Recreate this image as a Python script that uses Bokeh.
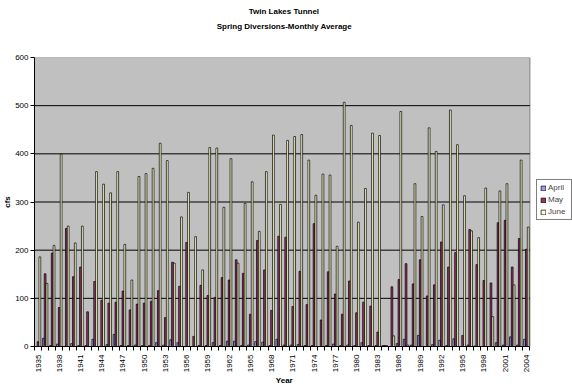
from math import pi

from bokeh.embed import file_html
from bokeh.models import ColumnDataSource, FixedTicker, Legend, LegendItem, Title
from bokeh.plotting import figure
from bokeh.resources import INLINE

# Monthly average diversions (cfs) through the Twin Lakes Tunnel, 1935-2004
years = list(range(1935, 2005))
april = [0, 17, 2, 5, 0, 6, 2, 2, 15, 0,
         4, 25, 2, 2, 3, 2, 2, 8, 3, 14,
         8, 0, 0, 2, 2, 8, 2, 11, 11, 2,
         3, 10, 9, 2, 15, 3, 3, 4, 2, 2,
         0, 2, 5, 2, 3, 2, 8, 2, 2, 2,
         0, 6, 15, 3, 23, 0, 4, 13, 2, 16,
         0, 3, 1, 0, 0, 8, 3, 20, 3, 15]
may = [10, 151, 194, 81, 245, 145, 165, 72, 135, 96,
       90, 92, 115, 76, 88, 90, 94, 116, 60, 175,
       125, 216, 21, 127, 106, 102, 143, 138, 180, 152,
       67, 220, 159, 75, 229, 227, 83, 156, 87, 255,
       55, 155, 109, 67, 136, 70, 92, 84, 30, 2,
       124, 139, 172, 130, 180, 105, 128, 217, 165, 195,
       23, 243, 170, 137, 132, 257, 262, 165, 224, 202]
june = [186, 131, 210, 399, 250, 215, 250, 0, 363, 337,
        319, 363, 212, 138, 353, 359, 370, 422, 386, 173,
        269, 320, 228, 159, 413, 412, 289, 390, 173, 297,
        342, 239, 363, 439, 295, 428, 436, 440, 387, 314,
        358, 356, 208, 507, 459, 258, 328, 443, 438, 2,
        22, 488, 3, 338, 270, 454, 405, 294, 491, 419,
        313, 240, 226, 329, 62, 323, 338, 128, 387, 248]

tick_years = [1935, 1938, 1941, 1944, 1947, 1950, 1953, 1956, 1959, 1962,
              1965, 1968, 1971, 1974, 1977, 1980, 1983, 1986, 1989, 1992,
              1995, 1998, 2001, 2004]
y_ticks = [0, 100, 200, 300, 400, 500, 600]
grid_levels = [100, 200, 300, 400, 500]

series_names = ["April", "May", "June"]
series_values = [april, may, june]
series_colors = ["#9999FF", "#993366", "#FFFFCC"]
bar_offsets = [-0.26, 0.0, 0.26]
bar_width = 0.25

FONT = "Liberation Sans"

# canvas geometry (pixels); the frame runs to the right edge so that the
# legend can sit beside the shaded plot area
W, H = 572, 390
LEFT, TOP, BOTTOM = 29, 57, 44
AREA_W = 500                      # width of the shaded plot area
FRAME_W = W - LEFT
Y_MAX = 600

x0 = years[0] - 0.5
x1 = years[-1] + 0.5
px_per_year = AREA_W / (x1 - x0)
x_end = x0 + FRAME_W / px_per_year

p = figure(width=W, height=H,
           x_range=(x0, x_end), y_range=(0, Y_MAX),
           output_backend="svg", toolbar_location=None, title=None,
           min_border_left=LEFT, min_border_right=0,
           min_border_top=TOP, min_border_bottom=BOTTOM)
p.background_fill_color = "white"
p.border_fill_color = "white"
p.outline_line_color = None

# shaded plot area with its gridlines
p.quad(left=[x0], right=[x1], bottom=[0], top=[Y_MAX],
       fill_color="#C0C0C0", line_color="#808080", line_width=1)
p.segment(x0=[x0] * len(grid_levels), x1=[x1] * len(grid_levels),
          y0=grid_levels, y1=grid_levels, line_color="black", line_width=1)

# grouped bars: one renderer per month, shifted within each year
bar_renderers = []
for name, values, color, off in zip(series_names, series_values, series_colors, bar_offsets):
    src = ColumnDataSource(dict(x=[y + off for y in years], top=values))
    r = p.vbar(x="x", top="top", width=bar_width, bottom=0, source=src,
               fill_color=color, line_color="black", line_width=0.7)
    bar_renderers.append((name, r))

p.xgrid.visible = False
p.ygrid.visible = False

# y axis
p.yaxis.ticker = FixedTicker(ticks=y_ticks)
p.yaxis.axis_line_color = "black"
p.yaxis.major_tick_out = 4
p.yaxis.major_tick_in = 0
p.yaxis.minor_tick_line_color = None
p.yaxis.major_label_text_font = FONT
p.yaxis.major_label_text_font_size = "8px"
p.yaxis.major_label_text_color = "black"
p.yaxis.major_label_standoff = 2
p.yaxis.axis_label = "cfs"
p.yaxis.axis_label_standoff = 0
p.yaxis.axis_label_text_font = FONT
p.yaxis.axis_label_text_font_size = "8px"
p.yaxis.axis_label_text_font_style = "bold"
p.yaxis.axis_label_text_color = "black"

# x axis: labels every third year, tick marks between categories
p.xaxis.bounds = (x0, x1)
p.xaxis.ticker = FixedTicker(ticks=tick_years,
                             minor_ticks=[y - 0.5 for y in years] + [x1])
p.xaxis.axis_line_color = "black"
p.xaxis.major_tick_in = 0
p.xaxis.major_tick_out = 0
p.xaxis.minor_tick_in = 0
p.xaxis.minor_tick_out = 4
p.xaxis.minor_tick_line_color = "black"
p.xaxis.major_label_orientation = pi / 2
p.xaxis.major_label_text_font = FONT
p.xaxis.major_label_text_font_size = "8px"
p.xaxis.major_label_text_color = "black"
p.xaxis.major_label_standoff = 4

# titles, left-aligned with offsets that centre them over the shaded area
title_style = dict(align="left", text_font=FONT, text_font_size="8px",
                   text_font_style="bold", text_color="black")
area_mid = AREA_W / 2
p.add_layout(Title(text=" ", standoff=14, **title_style), "above")
p.add_layout(Title(text="Spring Diversions-Monthly Average", standoff=4,
                   offset=area_mid - 67.8, **title_style), "above")
p.add_layout(Title(text="Twin Lakes Tunnel", standoff=4,
                   offset=area_mid - 35.8, **title_style), "above")
p.add_layout(Title(text="Year", standoff=0, vertical_align="top",
                   offset=area_mid - 8.7, **title_style), "below")

legend = Legend(items=[LegendItem(label=n, renderers=[r]) for n, r in bar_renderers],
                location=(AREA_W + 2, 126),
                label_text_font=FONT, label_text_font_size="8px",
                glyph_width=6, glyph_height=6, label_height=8,
                label_standoff=2, spacing=3, padding=3, margin=0,
                border_line_color="black", border_line_width=1,
                background_fill_color="white", background_fill_alpha=1.0)
p.add_layout(legend)

with open("out.html", "w") as f:
    f.write(file_html(p, INLINE))
